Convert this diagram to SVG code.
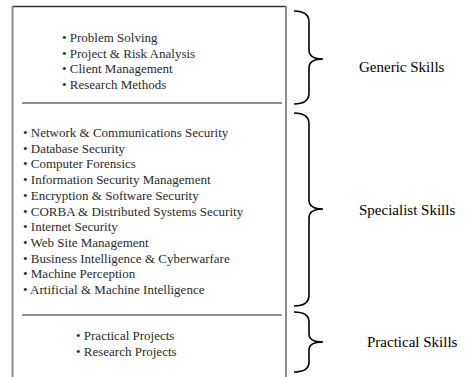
<svg xmlns="http://www.w3.org/2000/svg" width="466" height="377" viewBox="0 0 466 377">
<style>
text{font-family:'Liberation Serif','DejaVu Serif',serif}
.item{font-size:13px;fill:#2a2a2a}
.label{font-size:15px;fill:#000}
.side{stroke:#8a8a8a;stroke-width:2;fill:none}
.div{stroke:#6e6e6e;stroke-width:1.3;fill:none}
.brace{stroke:#000;stroke-width:1.6;fill:none}
</style>
<rect width="466" height="377" fill="#fff"/>
<g id="box">
<line x1="12.5" y1="6.5" x2="286" y2="6.5" stroke="#333" stroke-width="1.3"/>
<line class="side" x1="12.5" y1="6" x2="12.5" y2="377"/>
<line class="side" x1="286" y1="6" x2="286" y2="377"/>
<line class="div" x1="22" y1="103" x2="282" y2="103"/>
<line class="div" x1="22" y1="315" x2="282" y2="315"/>
</g>
<g id="generic-list" font-family="Liberation Serif, serif">
<text class="item" x="62" y="42">• Problem Solving</text>
<text class="item" x="62" y="57.5">• Project &amp; Risk Analysis</text>
<text class="item" x="62" y="73">• Client Management</text>
<text class="item" x="62" y="88.5">• Research Methods</text>
</g>
<g id="specialist-list" font-family="Liberation Serif, serif">
<text class="item" x="23" y="137">• Network &amp; Communications Security</text>
<text class="item" x="23" y="152.7">• Database Security</text>
<text class="item" x="23" y="168.4">• Computer Forensics</text>
<text class="item" x="23" y="184.1">• Information Security Management</text>
<text class="item" x="23" y="199.8">• Encryption &amp; Software Security</text>
<text class="item" x="23" y="215.5">• CORBA &amp; Distributed Systems Security</text>
<text class="item" x="23" y="231.2">• Internet Security</text>
<text class="item" x="23" y="246.9">• Web Site Management</text>
<text class="item" x="23" y="262.6">• Business Intelligence &amp; Cyberwarfare</text>
<text class="item" x="23" y="278.3">• Machine Perception</text>
<text class="item" x="23" y="294">• Artificial &amp; Machine Intelligence</text>
</g>
<g id="practical-list" font-family="Liberation Serif, serif">
<text class="item" x="76" y="340">• Practical Projects</text>
<text class="item" x="76" y="355.5">• Research Projects</text>
</g>
<g id="connectors">
<path class="brace" d="M294,11 Q309,11 309,22 L309,50 Q309,59 323,59 Q309,59 309,68 L309,93 Q309,104 294,104"/>
<path class="brace" d="M294,113 Q309,113 309,124 L309,200 Q309,209 323,209 Q309,209 309,218 L309,295 Q309,306 294,306"/>
<path class="brace" d="M294,312 Q309,312 309,322 L309,334 Q309,342 323,342 Q309,342 309,350 L309,362 Q309,372 294,372"/>
</g>
<g id="label-generic"><text class="label" x="359" y="72">Generic Skills</text></g>
<g id="label-specialist"><text class="label" x="359" y="215">Specialist Skills</text></g>
<g id="label-practical"><text class="label" x="367" y="347">Practical Skills</text></g>
</svg>
